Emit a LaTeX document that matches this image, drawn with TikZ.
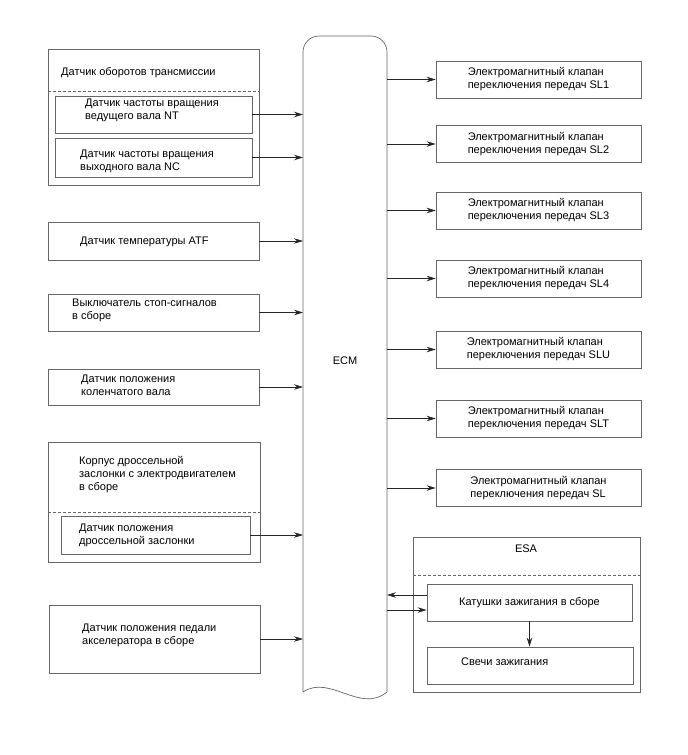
\documentclass[tikz,border=0pt]{standalone}
\usepackage{fontspec}
\setmainfont{Liberation Sans}
\usetikzlibrary{arrows.meta,positioning}

\tikzset{
  blk/.style={draw=black!60, line width=0.7pt, rectangle, inner sep=0pt},
  txt/.style={font=\fontsize{11}{13}\selectfont, align=left, inner sep=0pt},
  valve/.style={blk, txt, minimum width=205pt, minimum height=37pt},
  arr/.style={draw=black!85, line width=0.7pt, -{Stealth[length=9pt,width=5.5pt]}},
  sep/.style={draw=black!60, line width=0.7pt, dash pattern=on 3pt off 2pt},
}

\begin{document}
\begin{tikzpicture}[x=1pt,y=-1pt]
  \useasboundingbox (0,0) rectangle (688,755);

  % ECM
  \draw[black!60, line width=0.7pt]
    (303,692) -- (303,52) arc[start angle=180,end angle=270,radius=16]
    -- (371,36) arc[start angle=270,end angle=360,radius=16]
    -- (387,692) .. controls (360,714) and (330,674) .. (303,692);
  \node[txt] (ecm) at (345,361) {ECM};
  \coordinate (ecmL) at (303,361);
  \coordinate (ecmR) at (387,361);

  % inputs
  \node[blk, minimum width=211pt, minimum height=136pt] (trans) at (153.5,117) {};
  \node[txt, anchor=west] (transt) at (61,73) {Датчик оборотов трансмиссии};
  \draw[sep] (48,91) -- (259,91);
  \node[blk, minimum width=197pt, minimum height=37pt] (nt) at (153.5,114.5) {};
  \node[txt, anchor=west] (ntt) at (85,110.5) {Датчик частоты вращения\\ведущего вала NT};
  \node[blk, minimum width=197pt, minimum height=39pt] (nc) at (153.5,157.5) {};
  \node[txt, anchor=west] (nct) at (80,161) {Датчик частоты вращения\\выходного вала NC};

  \node[blk, minimum width=211pt, minimum height=38pt] (atf) at (153.5,241) {};
  \node[txt, anchor=west] (atft) at (80,242) {Датчик температуры ATF};

  \node[blk, minimum width=211pt, minimum height=37pt] (stop) at (153.5,312.5) {};
  \node[txt, anchor=west] (stopt) at (72,310) {Выключатель стоп-сигналов\\в сборе};

  \node[blk, minimum width=211pt, minimum height=36pt] (crank) at (153.5,387) {};
  \node[txt, anchor=west] (crankt) at (81,385) {Датчик положения\\коленчатого вала};

  \node[blk, minimum width=212pt, minimum height=120pt] (thr) at (154,502) {};
  \node[txt, anchor=west] (thrt) at (79,474.5) {Корпус дроссельной\\заслонки с электродвигателем\\в сборе};
  \draw[sep] (48,512) -- (260,512);
  \node[blk, minimum width=189pt, minimum height=38pt] (tps) at (155.5,535) {};
  \node[txt, anchor=west] (tpst) at (79,535) {Датчик положения\\дроссельной заслонки};

  \node[blk, minimum width=211pt, minimum height=68pt] (pedal) at (154.5,639) {};
  \node[txt, anchor=west] (pedalt) at (82,635.5) {Датчик положения педали\\акселератора в сборе};

  \draw[arr] (nt.east) -- (nt.east -| ecmL);
  \draw[arr] (nc.east) -- (nc.east -| ecmL);
  \draw[arr] (atf.east) -- (atf.east -| ecmL);
  \draw[arr] (stop.east) -- (stop.east -| ecmL);
  \draw[arr] (crank.east) -- (crank.east -| ecmL);
  \draw[arr] (tps.east) -- (tps.east -| ecmL);
  \draw[arr] (pedal.east) -- (pedal.east -| ecmL);

  % outputs
  \node[valve] (sl1) at (538.5,79.5) {Электромагнитный клапан\\переключения передач SL1};
  \node[valve] (sl2) at (538.5,144) {Электромагнитный клапан\\переключения передач SL2};
  \node[valve] (sl3) at (538.5,210.5) {Электромагнитный клапан\\переключения передач SL3};
  \node[valve] (sl4) at (538.5,278.5) {Электромагнитный клапан\\переключения передач SL4};
  \node[valve] (slu) at (538.5,349.5) {Электромагнитный клапан\\переключения передач SLU};
  \node[valve] (slt) at (538.5,418.5) {Электромагнитный клапан\\переключения передач SLT};
  \node[valve] (sl) at (538.5,488) {Электромагнитный клапан\\переключения передач SL};

  \draw[arr] (sl1.west -| ecmR) -- (sl1.west);
  \draw[arr] (sl2.west -| ecmR) -- (sl2.west);
  \draw[arr] (sl3.west -| ecmR) -- (sl3.west);
  \draw[arr] (sl4.west -| ecmR) -- (sl4.west);
  \draw[arr] (slu.west -| ecmR) -- (slu.west);
  \draw[arr] (slt.west -| ecmR) -- (slt.west);
  \draw[arr] (sl.west -| ecmR) -- (sl.west);

  % ESA
  \node[blk, minimum width=227pt, minimum height=155pt] (esa) at (526.5,614.5) {};
  \node[txt] (esat) at (526,549) {ESA};
  \draw[sep] (413,575) -- (640,575);
  \node[valve] (coil) at (529.5,602.5) {Катушки зажигания в сборе};
  \node[blk, minimum width=206pt, minimum height=37pt] (plug) at (530,665.5) {};
  \node[txt, anchor=west] (plugt) at (461,662) {Свечи зажигания};

  \draw[arr] ([yshift=7.5pt]coil.west) -- ([yshift=7.5pt]coil.west -| ecmR);
  \draw[arr] ([yshift=-7.5pt]coil.west -| ecmR) -- ([yshift=-7.5pt]coil.west);
  \draw[arr] (coil.south) -- (coil.south |- plug.north);
\end{tikzpicture}
\end{document}
